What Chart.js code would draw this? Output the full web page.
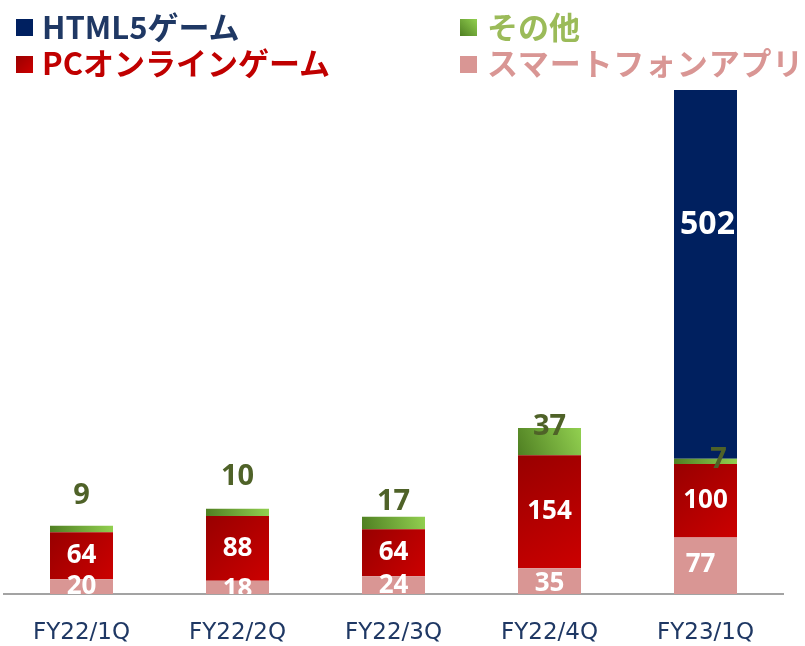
<!DOCTYPE html>
<html>
<head>
<meta charset="utf-8">
<script src="https://cdn.jsdelivr.net/npm/chart.js@4.4.1/dist/chart.umd.min.js"></script>
<style>
  html, body { margin: 0; padding: 0; background: #fff; }
  #wrap { position: relative; width: 805px; height: 646px; overflow: hidden; }
  #chart { position: absolute; left: 0; top: 0; }
  .lg { position: absolute; font-family: "Noto Sans CJK JP", sans-serif; font-weight: 700; font-size: 31px; line-height: 40px; white-space: nowrap; }
  .mk { position: absolute; width: 17px; height: 17px; }
</style>
</head>
<body>
<div id="wrap">
  <canvas id="chart" width="805" height="646"></canvas>
  <div class="mk" style="left:16px;top:19px;background:#002060"></div>
  <div class="lg" style="left:42px;top:6px;color:#1f3864">HTML5ゲーム</div>
  <div class="mk" style="left:16px;top:56px;background:linear-gradient(135deg,#990000,#cc0000)"></div>
  <div class="lg" style="left:42px;top:42px;color:#c00000">PCオンラインゲーム</div>
  <div class="mk" style="left:460px;top:19px;background:linear-gradient(45deg,#4f7f22,#92d050)"></div>
  <div class="lg" style="left:487px;top:6px;color:#9bbb59">その他</div>
  <div class="mk" style="left:460px;top:56px;background:#d99694"></div>
  <div class="lg" style="left:487px;top:42px;color:#d99694;letter-spacing:0.8px">スマートフォンアプリ</div>
</div>
<script>
const categories = ["FY22/1Q", "FY22/2Q", "FY22/3Q", "FY22/4Q", "FY23/1Q"];
const smartphoneApps = [20, 18, 24, 35, 77];
const pcOnlineGames = [64, 88, 64, 154, 100];
const otherGames = [9, 10, 17, 37, 7];
const html5Games = [null, null, null, null, 502];
const yMax = 686;

const BAR_PCT = 63 / 156;

// diagonal gradient over a single stacked bar segment
function segmentGradient(context, from, to, corner) {
  const chart = context.chart;
  const xs = chart.scales.x, ys = chart.scales.y;
  if (context.type !== "data" || !xs || !ys || !chart.chartArea) return to;
  const i = context.dataIndex;
  const di = context.datasetIndex;
  let base = 0;
  for (let k = 0; k < di; k++) base += chart.data.datasets[k].data[i] || 0;
  const val = chart.data.datasets[di].data[i] || 0;
  const cx = xs.getPixelForValue(i);
  const half = (xs.width / categories.length) * BAR_PCT / 2;
  const yTop = ys.getPixelForValue(base + val);
  const yBot = ys.getPixelForValue(base);
  const g = corner === "tl"
    ? chart.ctx.createLinearGradient(cx - half, yTop, cx + half, yBot)
    : chart.ctx.createLinearGradient(cx - half, yBot, cx + half, yTop);
  g.addColorStop(0, from);
  g.addColorStop(1, to);
  return g;
}

const valueLabels = {
  id: "valueLabels",
  afterDatasetsDraw(chart, args, opts) {
    const { ctx, chartArea } = chart;
    chart.data.datasets.forEach((ds, di) => {
      const st = opts.styles[di];
      const meta = chart.getDatasetMeta(di);
      meta.data.forEach((bar, i) => {
        const v = ds.data[i];
        if (v == null) return;
        const off = (st.offsets && st.offsets[i]) || [0, 0];
        ctx.save();
        if (st.clip) {
          ctx.beginPath();
          ctx.rect(chartArea.left, chartArea.top, chartArea.right - chartArea.left, chartArea.bottom - chartArea.top);
          ctx.clip();
        }
        ctx.font = "700 " + st.size + "px 'Open Sans', sans-serif";
        ctx.fillStyle = st.color;
        ctx.textAlign = "center";
        ctx.textBaseline = "middle";
        const y = st.above ? bar.y : (bar.y + bar.base) / 2;
        ctx.fillText(String(v), bar.x + off[0], y + off[1]);
        ctx.restore();
      });
    });
  }
};

new Chart(document.getElementById("chart"), {
  type: "bar",
  data: {
    labels: categories,
    datasets: [
      { label: "スマートフォンアプリ", data: smartphoneApps, backgroundColor: "#d99694" },
      { label: "PCオンラインゲーム", data: pcOnlineGames,
        backgroundColor: (c) => segmentGradient(c, "#980000", "#cc0000", "tl") },
      { label: "その他", data: otherGames,
        backgroundColor: (c) => segmentGradient(c, "#4f7f22", "#92d050", "bl") },
      { label: "HTML5ゲーム", data: html5Games, backgroundColor: "#00205f" }
    ]
  },
  options: {
    responsive: false,
    animation: false,
    layout: { padding: { top: 90, left: 3.5, right: 21.5, bottom: 2 } },
    datasets: { bar: { categoryPercentage: 1, barPercentage: BAR_PCT, borderWidth: 0 } },
    plugins: {
      legend: { display: false },
      tooltip: { enabled: false },
      valueLabels: {
        styles: [
          { color: "#ffffff", size: 26, clip: true, offsets: [[0, 0], [0, 2], [0, 0], [0, 2], [-5, -1]] },
          { color: "#ffffff", size: 26 },
          { color: "#4f6228", size: 29, above: true, offsets: [[0, -30], [0, -32], [0, -15], [0, -1], [13, 1]] },
          { color: "#ffffff", size: 32, offsets: [null, null, null, null, [2, -50]] }
        ]
      }
    },
    scales: {
      x: {
        stacked: true,
        grid: { display: false },
        border: { display: true, color: "#a3a3a3", width: 2 },
        ticks: { color: "#1f3864", font: { family: "'DejaVu Sans'", size: 23 }, padding: 17 },
        afterFit: (scale) => { scale.height = 50; }
      },
      y: { stacked: true, display: false, min: 0, max: yMax }
    }
  },
  plugins: [valueLabels]
});
</script>
</body>
</html>
